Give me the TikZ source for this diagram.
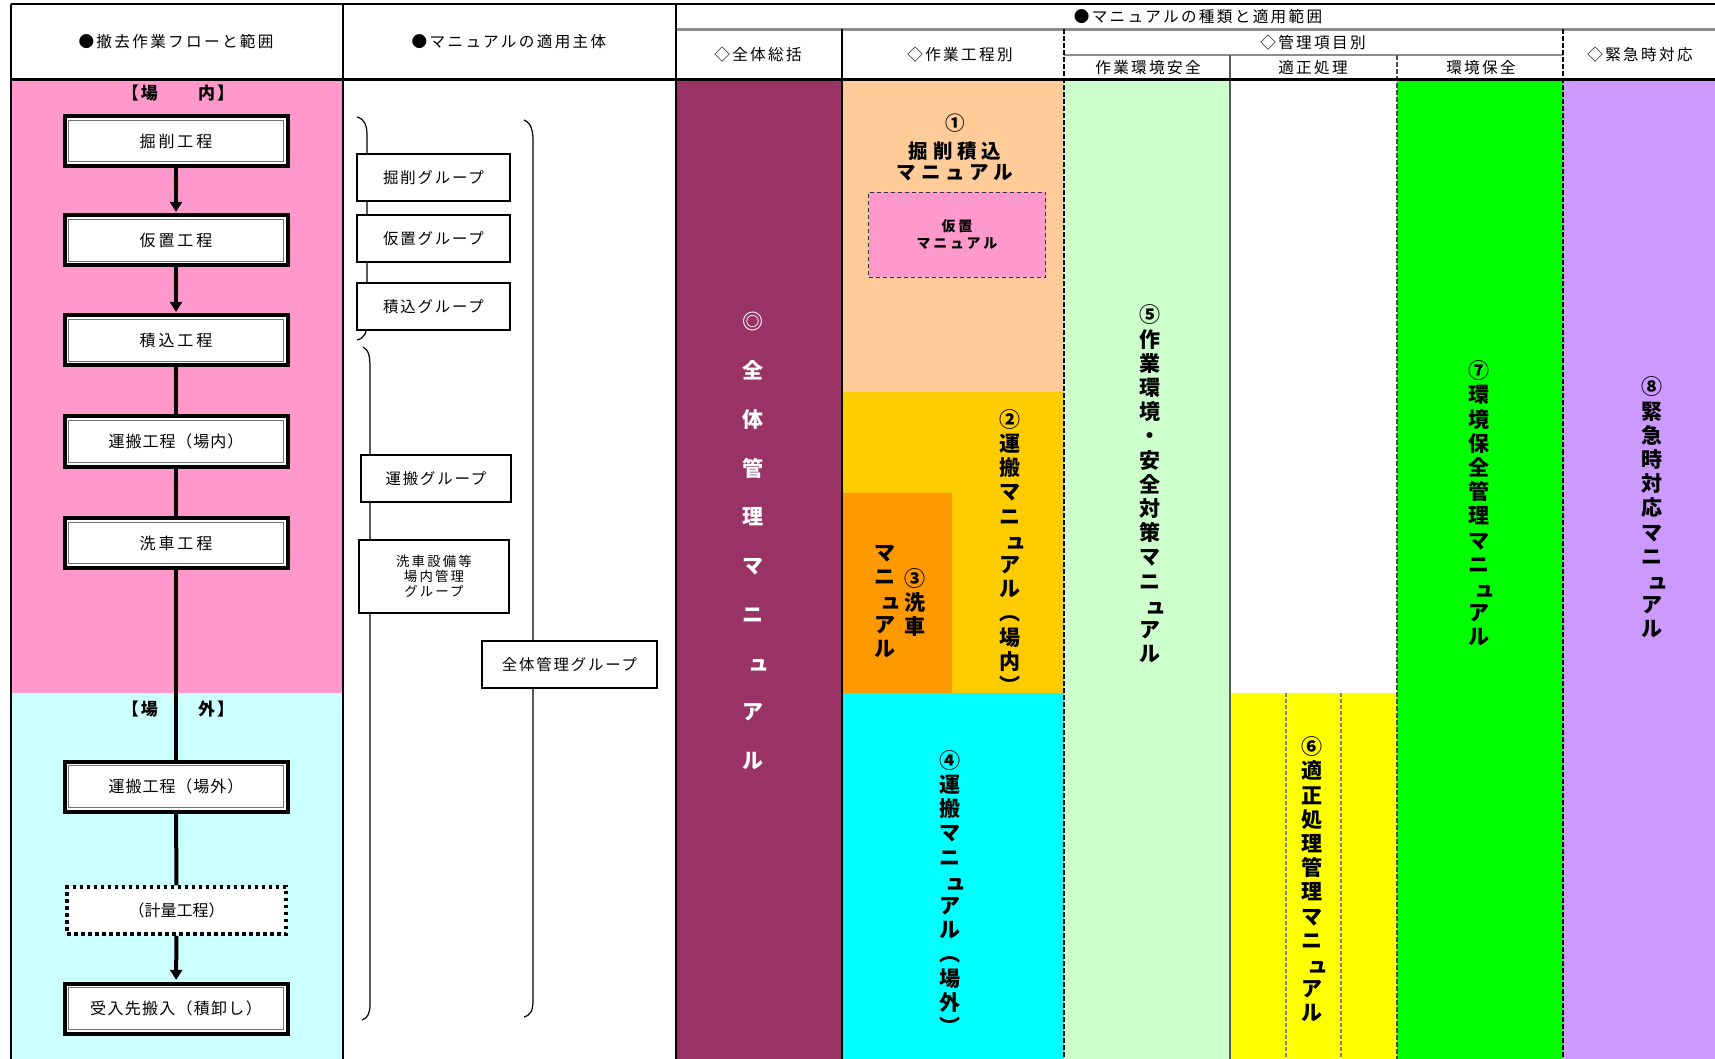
\documentclass[tikz,border=0pt]{standalone}
\usepackage{fontspec}
\newfontfamily\jp{Noto Sans CJK JP}
\usetikzlibrary{arrows.meta}
\definecolor{cpink}{HTML}{FF99CC}
\definecolor{clcyan}{HTML}{CCFFFF}
\definecolor{cpurple}{HTML}{993366}
\definecolor{cpeach}{HTML}{FFCC99}
\definecolor{cgold}{HTML}{FFCC00}
\definecolor{corange}{HTML}{FF9900}
\definecolor{ccyan}{HTML}{00FFFF}
\definecolor{clgreen}{HTML}{CCFFCC}
\definecolor{cyellow}{HTML}{FFFF00}
\definecolor{cgreen}{HTML}{00FF00}
\definecolor{clav}{HTML}{CC99FF}
\newcommand\syu{\makebox[1em][l]{\hspace{0.28em}ュ}}
\tikzset{
  hdr/.style={inner sep=0, font={\jp\fontsize{7.8}{9}\selectfont\addfontfeatures{LetterSpace=15}}},
  proc/.style={draw=black, line width=2pt, fill=white, minimum width=111.5pt, minimum height=25pt, inner sep=0,
    font={\jp\fontsize{8}{9}\selectfont\addfontfeatures{LetterSpace=#1}},
    path picture={\draw[line width=0.5pt,black!55] ([shift={(2.1pt,2.1pt)}]path picture bounding box.south west) rectangle ([shift={(-2.1pt,-2.1pt)}]path picture bounding box.north east);}},
  dotbox/.style={draw=black, line width=1.75pt, dash pattern=on 1.75pt off 1.75pt, fill=white, minimum width=109.5pt, minimum height=23.5pt, inner sep=0,
    font={\jp\fontsize{8}{9}\selectfont\addfontfeatures{LetterSpace=0}}},
  grp/.style={draw=black, line width=0.9pt, fill=white, minimum height=23.5pt, inner sep=0,
    font={\jp\fontsize{7.7}{9}\selectfont\addfontfeatures{LetterSpace=12}}},
  flowline/.style={line width=2pt},
  flowarrow/.style={line width=2pt, -{Triangle[width=6pt,length=5pt]}, shorten >=0.8pt},
  vstk/.style={align=center, inner sep=0, font={\jp\bfseries\fontsize{10.5}{12.1}\selectfont}},
  dsep/.style={line width=0.8pt, dash pattern=on 2.5pt off 1pt},
  grayline/.style={line width=1.2pt, black!45},
  brk/.style={line width=0.6pt},
  place/.style={inner sep=0, font={\jp\bfseries\fontsize{8.5}{10}\selectfont\addfontfeatures{LetterSpace=12}}}
}
\begin{document}
\begin{tikzpicture}[x=0.5pt,y=-0.5pt]
\useasboundingbox (0,0) rectangle (1715,1059);
\fill[white] (0,0) rectangle (1715,1059);
% ---- colour fields
\fill[cpink] (11,80) rectangle (343,693);
\fill[clcyan] (11,693) rectangle (343,1059);
\fill[cpurple] (676,80) rectangle (842,1059);
\fill[cpeach] (842,80) rectangle (1064,392);
\fill[cgold] (842,392) rectangle (1064,693);
\fill[corange] (842,493) rectangle (952,693);
\fill[ccyan] (842,693) rectangle (1064,1059);
\fill[clgreen] (1064,80) rectangle (1230,1059);
\fill[cyellow] (1230,693) rectangle (1397,1059);
\fill[cgreen] (1397,80) rectangle (1563,1059);
\fill[clav] (1563,80) rectangle (1715,1059);
% ---- grid
\draw[grayline] (676,29.5) -- (1715,29.5);
\draw[grayline] (1064,55) -- (1563,55);
\draw[line width=1pt] (11,4.5) -- (1715,4.5);
\draw[line width=1pt] (11,4.5) -- (11,1059);
\draw[line width=1pt] (343,4.5) -- (343,1059);
\draw[line width=1.1pt] (676,4.5) -- (676,1059);
\draw[line width=0.8pt] (842,29.5) -- (842,1059);
\draw[dsep] (1064,29.5) -- (1064,1059);
\draw[dsep] (1563,29.5) -- (1563,1059);
\draw[line width=1pt, black!65] (1230,55) -- (1230,1059);
\draw[dsep, black!70] (1397,55) -- (1397,1059);
\draw[line width=0.7pt, black!50, dash pattern=on 2pt off 1pt] (1286,693) -- (1286,1059);
\draw[line width=0.7pt, black!50, dash pattern=on 2pt off 1pt] (1341,693) -- (1341,1059);
\draw[line width=1.5pt] (11,80) -- (1715,80);
% ---- header texts
\node[hdr] (h1) at (176,42) {●撤去作業フローと範囲};
\node[hdr] (h2) at (509,42) {●マニュアルの適用主体};
\node[hdr] (h3) at (1198,17) {●マニュアルの種類と適用範囲};
\node[hdr] (h4) at (758,55) {◇全体総括};
\node[hdr] (h5) at (960,55) {◇作業工程別};
\node[hdr] (h6) at (1313,43) {◇管理項目別};
\node[hdr] (h7) at (1148,68) {作業環境安全};
\node[hdr] (h8) at (1313,68) {適正処理};
\node[hdr] (h9) at (1481,68) {環境保全};
\node[hdr] (h10) at (1640,55) {◇緊急時対応};
% ---- flow column
\node[place] (in) at (178,93) {【場　　内】};
\node[place] (out) at (178,709) {【場　　外】};
\node[proc=18] (p1) at (176,141) {掘削工程};
\node[proc=18] (p2) at (176,240.5) {仮置工程};
\node[proc=18] (p3) at (176,340.5) {積込工程};
\node[proc=6] (p4) at (176,441.5) {運搬工程（場内）};
\node[proc=18] (p5) at (176,543) {洗車工程};
\node[proc=6] (p6) at (176,786.5) {運搬工程（場外）};
\node[dotbox] (p7) at (176.5,910.5) {（計量工程）};
\node[proc=8] (p8) at (176,1008.5) {受入先搬入（積卸し）};
\draw[flowarrow] (p1) -- (p2);
\draw[flowarrow] (p2) -- (p3);
\draw[flowline] (p3) -- (p4);
\draw[flowline] (p4) -- (p5);
\draw[flowline] (p5) -- (p6);
\draw[flowline] (p6) -- (p7);
\draw[flowarrow] (p7) -- (p8);
% ---- brackets
\draw[brk] (357,117) .. controls (365,119) and (367,126) .. (367,136) -- (367,322) .. controls (367,332) and (365,338) .. (357,340);
\draw[brk] (363,347) .. controls (369,350) and (370,357) .. (370,368) -- (370,1004) .. controls (370,1013) and (368,1018) .. (362,1020);
\draw[brk] (524,120) .. controls (531,123) and (533,130) .. (533,141) -- (533,1000) .. controls (533,1010) and (531,1015) .. (524,1017);
% ---- groups
\node[grp, minimum width=76.5pt] (g1) at (433.5,177.5) {掘削グループ};
\node[grp, minimum width=76.5pt] (g2) at (433.5,238.5) {仮置グループ};
\node[grp, minimum width=76.5pt] (g3) at (433.5,306.5) {積込グループ};
\node[grp, minimum width=75pt] (g4) at (436,478.5) {運搬グループ};
\node[grp, minimum width=75pt, minimum height=36.5pt, align=center, font={\jp\fontsize{6.7}{7.5}\selectfont\addfontfeatures{LetterSpace=16}}] (g5) at (434,576.5) {洗車設備等\\場内管理\\グループ};
\node[grp, minimum width=87.5pt] (g6) at (569.5,664.5) {全体管理グループ};
% ---- manuals
\node[vstk, text=white, font={\jp\bfseries\fontsize{10.5}{24.35}\selectfont}] (m0) at (753,541) {◎\\全\\体\\管\\理\\マ\\ニ\\\syu\\ア\\ル};
\node[align=center, inner sep=0, font={\jp\bfseries\fontsize{9.75}{10.5}\selectfont\addfontfeatures{LetterSpace=25}}] (m1) at (955,147) {①\\[3.5pt]掘削積込\\マニュアル};
\node[draw=black!80, line width=0.6pt, dash pattern=on 2pt off 1.5pt, fill=cpink, minimum width=88.5pt, minimum height=42.5pt, align=center, inner sep=0,
  font={\jp\bfseries\fontsize{7}{8.5}\selectfont\addfontfeatures{LetterSpace=20}}] (kari) at (957,235) {仮置\\マニュアル};
\node[vstk] (m2) at (1010,551.5) {②\\運\\搬\\マ\\ニ\\\syu\\ア\\ル\\︵\\場\\内\\︶};
\node[vstk] (m3a) at (915,602.5) {③\\洗\\車};
\node[vstk] (m3b) at (885,601.5) {マ\\ニ\\\syu\\ア\\ル};
\node[vstk] (m4) at (950,892.5) {④\\運\\搬\\マ\\ニ\\\syu\\ア\\ル\\︵\\場\\外\\︶};
\node[vstk] (m5) at (1150,484) {⑤\\作\\業\\環\\境\\・\\安\\全\\対\\策\\マ\\ニ\\\syu\\ア\\ル};
\node[vstk] (m6) at (1312,879.5) {⑥\\適\\正\\処\\理\\管\\理\\マ\\ニ\\\syu\\ア\\ル};
\node[vstk] (m7) at (1479,503.5) {⑦\\環\\境\\保\\全\\管\\理\\マ\\ニ\\\syu\\ア\\ル};
\node[vstk] (m8) at (1652,507.5) {⑧\\緊\\急\\時\\対\\応\\マ\\ニ\\\syu\\ア\\ル};
\end{tikzpicture}
\end{document}
